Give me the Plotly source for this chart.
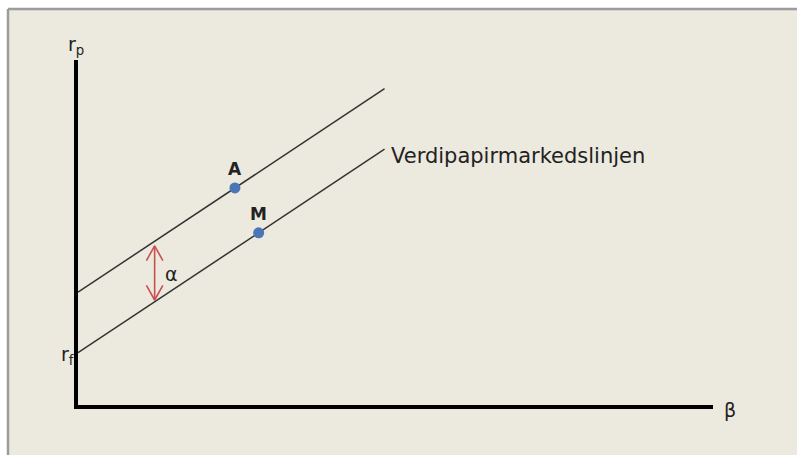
import plotly.graph_objects as go

# Security market line (SML) diagram with an asset above the line
rf = 2.85           # risk-free rate (intercept)
r_market = 9.45     # expected market return at beta = 1
alpha = 3.3         # vertical distance of asset A above the SML
beta_end = 1.68     # last beta value drawn for both lines
beta_A = 0.86
beta_M = 0.99
beta_alpha = 0.42   # where the alpha arrow is drawn

x_range = [0, 3.48]
y_range = [0, 18.8]

BG = "#ece9df"
LINE = "#333333"
DOT = "#4a76b5"
ARROW = "#c9504f"
FONT = "DejaVu Sans"

slope = r_market - rf
beta_line = [0, beta_end]
sml = [rf + b * slope for b in beta_line]
upper = [rf + alpha + b * slope for b in beta_line]
r_A = rf + alpha + beta_A * slope
r_M = rf + beta_M * slope

fig = go.Figure()

fig.add_trace(go.Scatter(x=beta_line, y=upper, mode="lines",
                         line=dict(color=LINE, width=1.5), hoverinfo="skip"))
fig.add_trace(go.Scatter(x=beta_line, y=sml, mode="lines",
                         line=dict(color=LINE, width=1.5), hoverinfo="skip"))

# alpha arrow between the two lines
a_low = rf + beta_alpha * slope + 0.1
a_high = rf + alpha + beta_alpha * slope - 0.25
head_w = 0.045
head_h = 0.8
fig.add_trace(go.Scatter(x=[beta_alpha, beta_alpha], y=[a_low, a_high], mode="lines",
                         line=dict(color=ARROW, width=1.6), hoverinfo="skip"))
fig.add_trace(go.Scatter(x=[beta_alpha - head_w, beta_alpha, beta_alpha + head_w],
                         y=[a_high - head_h, a_high, a_high - head_h], mode="lines",
                         line=dict(color=ARROW, width=1.6), hoverinfo="skip"))
fig.add_trace(go.Scatter(x=[beta_alpha - head_w, beta_alpha, beta_alpha + head_w],
                         y=[a_low + head_h, a_low, a_low + head_h], mode="lines",
                         line=dict(color=ARROW, width=1.6), hoverinfo="skip"))

fig.add_trace(go.Scatter(x=[beta_A, beta_M], y=[r_A, r_M], mode="markers",
                         marker=dict(color=DOT, size=11), hoverinfo="skip"))

annotations = [
    dict(x=beta_A, y=r_A, text="<b>A</b>", yshift=19, font=dict(size=17)),
    dict(x=beta_M, y=r_M, text="<b>M</b>", yshift=19, font=dict(size=17)),
    dict(x=beta_alpha, y=(a_low + a_high) / 2, text="α", xanchor="left", xshift=8,
         yshift=-1, font=dict(size=19)),
    dict(x=beta_end, y=sml[1], text="Verdipapirmarkedslinjen", xanchor="left",
         xshift=4, yshift=-7, font=dict(size=21)),
    dict(x=0, y=rf, text="r<sub>f</sub>", xanchor="right", xshift=-2, yshift=-3,
         font=dict(size=19)),
    dict(x=0, xref="x", y=1, yref="paper", text="r<sub>p</sub>", xanchor="center",
         yanchor="bottom", xshift=-2, yshift=0, font=dict(size=19)),
    dict(x=1, xref="paper", y=0, yref="y", text="β", xanchor="left", xshift=9,
         yanchor="middle", yshift=-5, font=dict(size=19)),
]
for a in annotations:
    a.setdefault("xref", "x")
    a.setdefault("yref", "y")
    a.update(showarrow=False)
    a["font"].update(family=FONT, color="#222222")

W, H = 797, 455
ml, mr, mt, mb = 78, 84, 60, 50
pw, ph = W - ml - mr, H - mt - mb

# beige panel with a grey top/left edge
px = lambda v: (v - ml) / pw
py = lambda v: (H - mb - v) / ph
shapes = [
    dict(type="rect", xref="paper", yref="paper", layer="below",
         x0=px(8), x1=px(W), y0=py(H), y1=py(9),
         fillcolor=BG, line=dict(width=0)),
    dict(type="line", xref="paper", yref="paper", layer="below",
         x0=px(8), x1=px(W), y0=py(9), y1=py(9),
         line=dict(color="#9c9c9c", width=2.5)),
    dict(type="line", xref="paper", yref="paper", layer="below",
         x0=px(8), x1=px(8), y0=py(9), y1=py(H),
         line=dict(color="#9c9c9c", width=2.5)),
]

fig.update_layout(
    width=W, height=H,
    margin=dict(l=ml, r=mr, t=mt, b=mb),
    paper_bgcolor="white", plot_bgcolor=BG,
    showlegend=False,
    annotations=annotations,
    shapes=shapes,
    xaxis=dict(range=x_range, showgrid=False, zeroline=False, showticklabels=False,
               ticks="", showline=True, linecolor="black", linewidth=4),
    yaxis=dict(range=y_range, showgrid=False, zeroline=False, showticklabels=False,
               ticks="", showline=True, linecolor="black", linewidth=4),
)

fig.write_html("out.html", config={"displayModeBar": False})
